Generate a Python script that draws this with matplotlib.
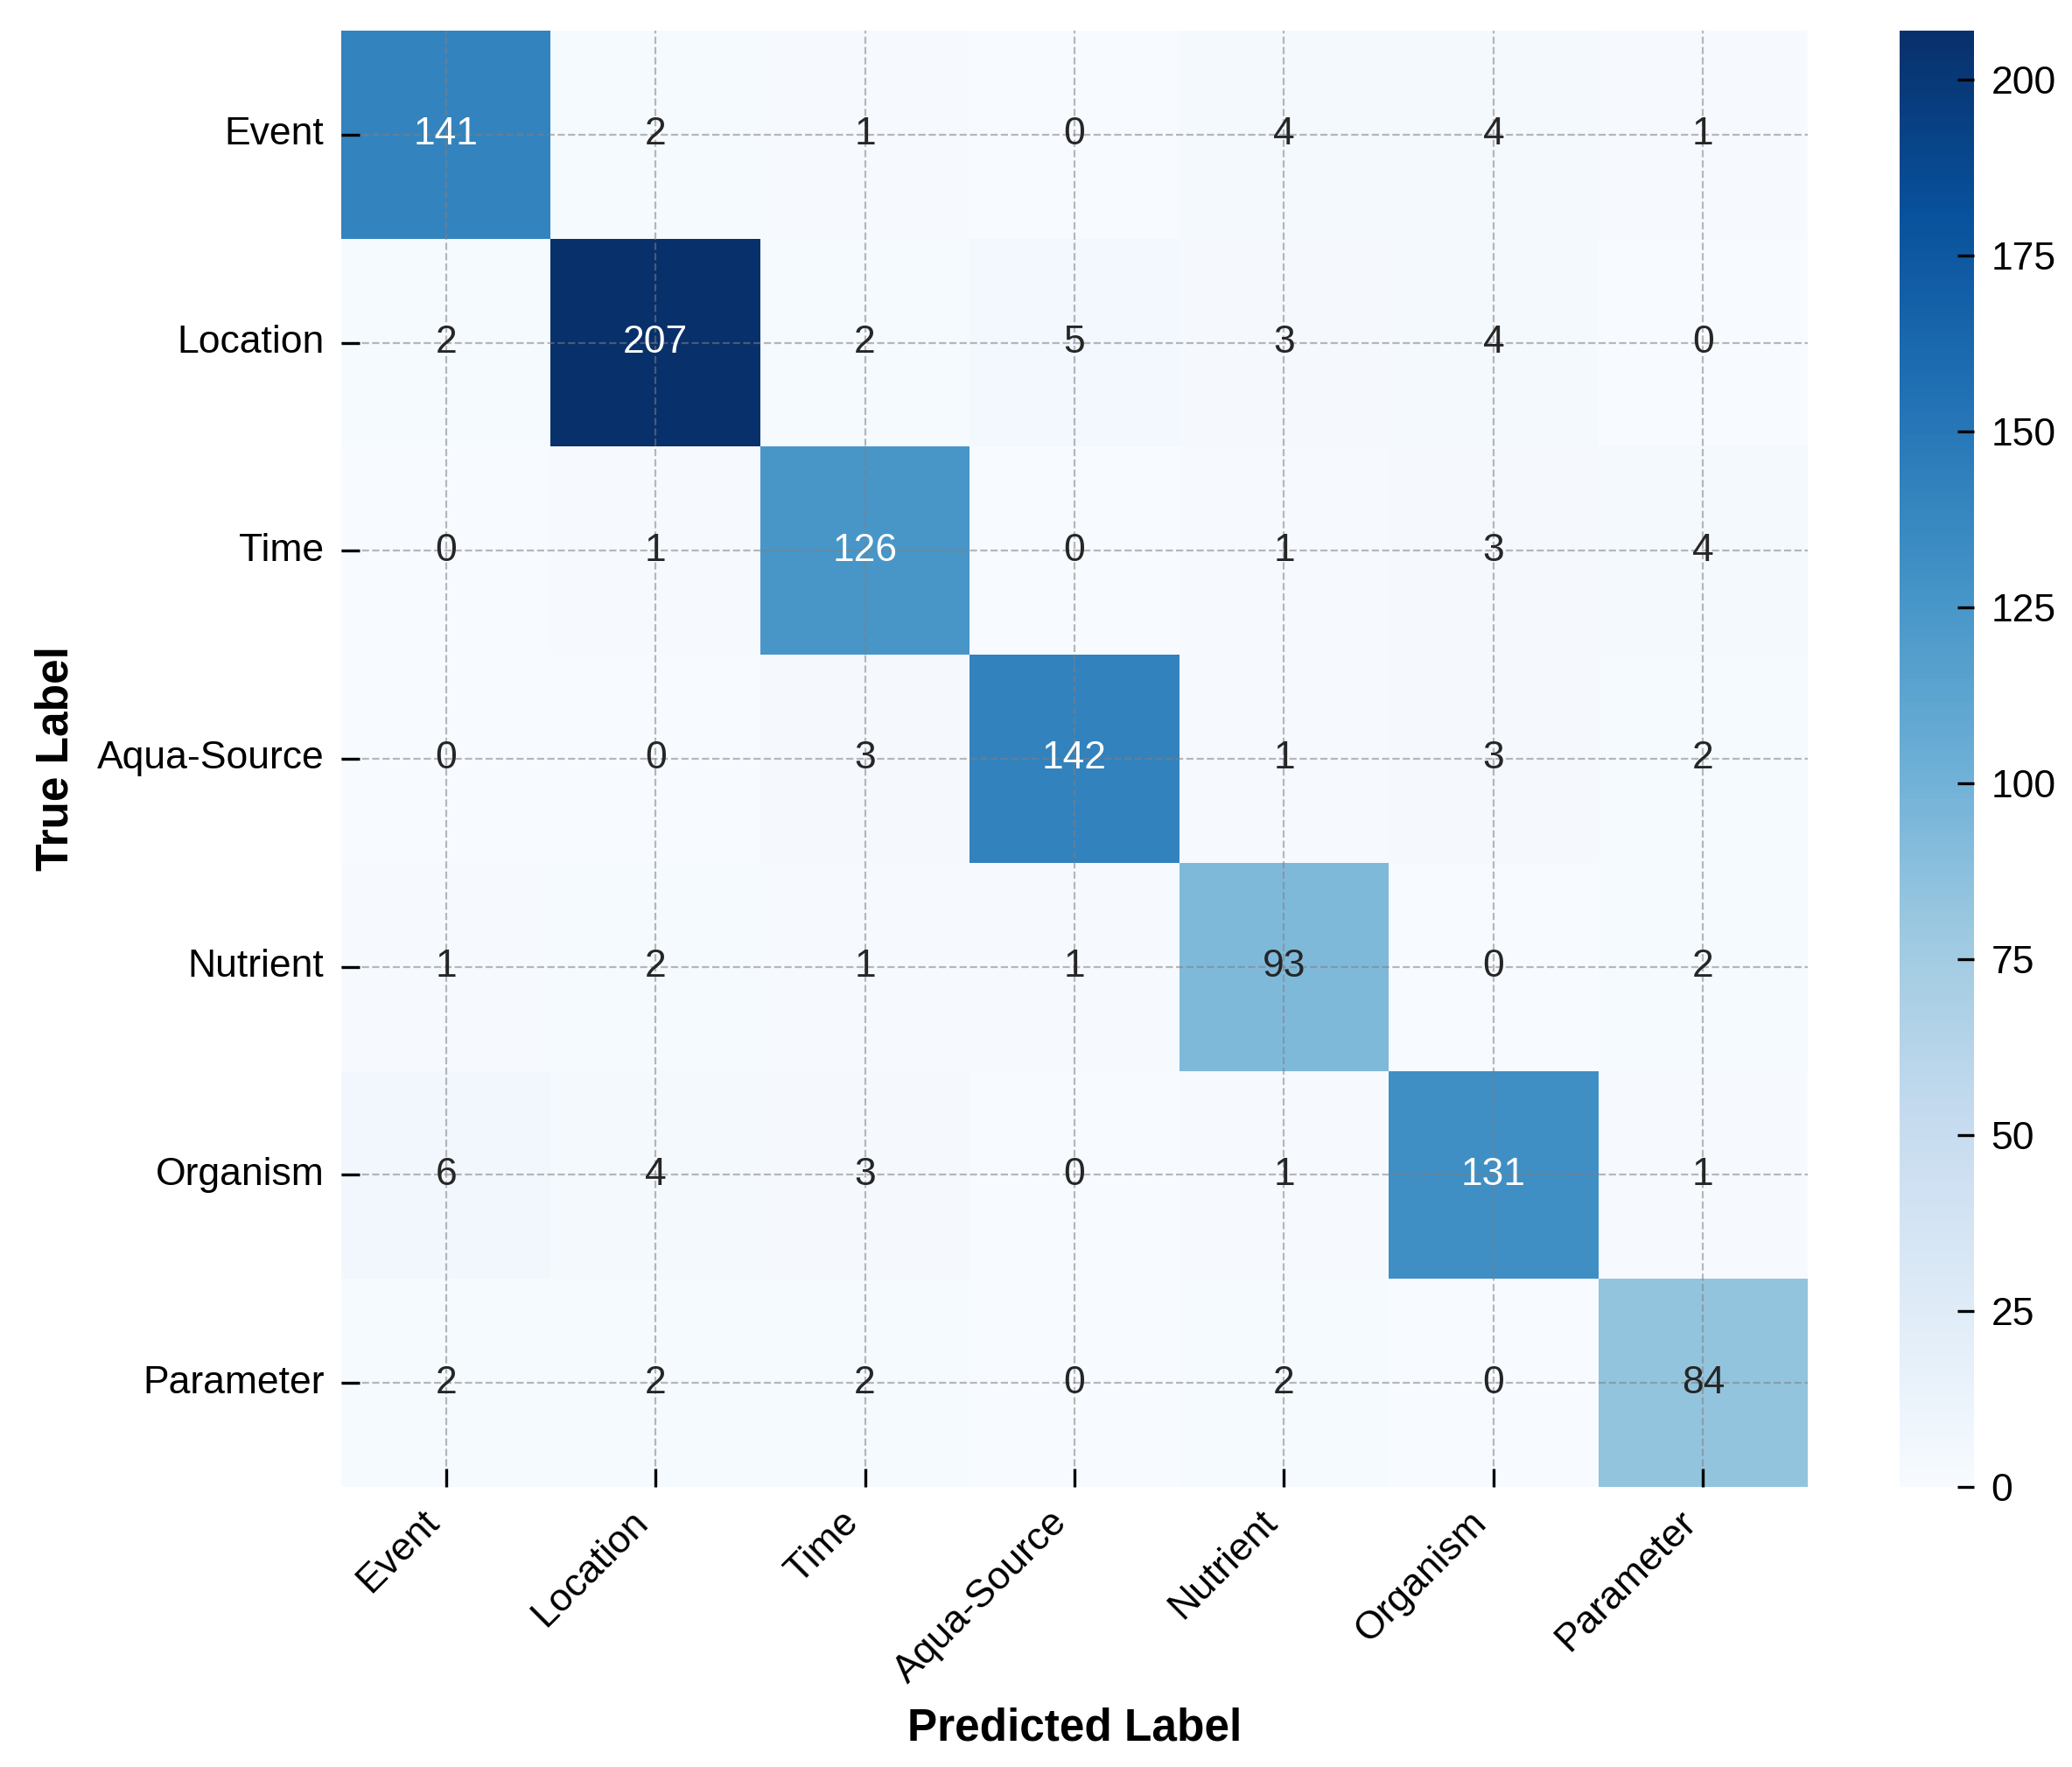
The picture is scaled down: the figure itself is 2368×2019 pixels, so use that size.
"""
Confusion matrix heatmap - entity classes
"""
import numpy as np
import matplotlib
matplotlib.use('Agg')
import matplotlib.pyplot as plt
import seaborn as sns

classes = ['Event', 'Location', 'Time', 'Aqua-Source', 'Nutrient', 'Organism', 'Parameter']

# rows = true label, columns = predicted label
cm_event = [141, 2, 1, 0, 4, 4, 1]
cm_location = [2, 207, 2, 5, 3, 4, 0]
cm_time = [0, 1, 126, 0, 1, 3, 4]
cm_aqua = [0, 0, 3, 142, 1, 3, 2]
cm_nutrient = [1, 2, 1, 1, 93, 0, 2]
cm_organism = [6, 4, 3, 0, 1, 131, 1]
cm_parameter = [2, 2, 2, 0, 2, 0, 84]

cm = np.array([cm_event, cm_location, cm_time, cm_aqua, cm_nutrient, cm_organism, cm_parameter])

plt.rcParams['font.family'] = ['Liberation Sans', 'DejaVu Sans']

fig = plt.figure(figsize=(11.84, 10.095), dpi=200)
ax = fig.add_axes([0.1647, 0.1585, 0.7078, 0.8242])
cax = fig.add_axes([0.9168, 0.1585, 0.0359, 0.8242])

sns.heatmap(cm, annot=True, fmt='d', cmap='Blues', ax=ax, cbar_ax=cax,
            xticklabels=classes, yticklabels=classes,
            annot_kws={'size': 16})

ax.grid(True, linestyle='--', color='gray', alpha=0.55, linewidth=0.8)
ax.set_axisbelow(False)
ax.tick_params(axis='both', direction='in', length=7.5, width=1.2, color='black',
               labelsize=16, pad=7)
ax.set_xticklabels(classes, rotation=45, ha='right')
ax.set_yticklabels(classes, rotation=0)
ax.set_xlabel('Predicted Label', fontsize=18.5, fontweight='bold', labelpad=7)
ax.set_ylabel('True Label', fontsize=18.5, fontweight='bold', labelpad=8)

cax.tick_params(direction='in', length=7, width=1.2, color='black', labelsize=16, pad=7)

plt.savefig('out.png', dpi=200)
plt.close()
